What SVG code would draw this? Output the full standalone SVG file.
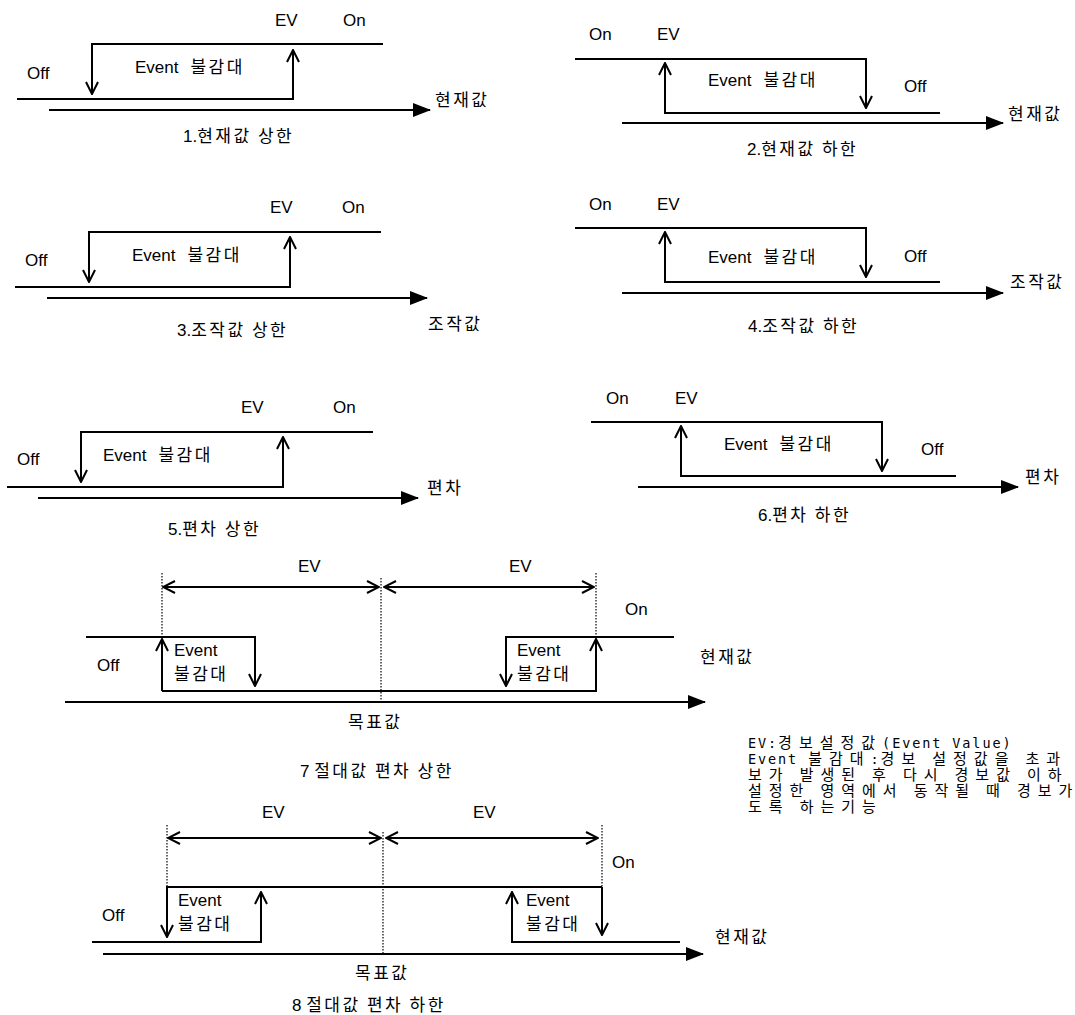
<svg xmlns="http://www.w3.org/2000/svg" width="1075" height="1015" viewBox="0 0 1075 1015">
<style>
text { fill:#000; }
.l { font-family:"Liberation Sans",Arial,sans-serif; font-size:17px; }
.k { font-family:"Noto Sans CJK KR",sans-serif; font-size:17px; letter-spacing:2.5px; }
.ml { font-family:"DejaVu Sans Mono","Liberation Mono",monospace; font-size:13.5px; letter-spacing:1.9px; }
.mk { font-family:"Noto Sans CJK KR",sans-serif; font-size:15px; letter-spacing:7px; }
.ar { fill:none; stroke:#000; stroke-width:2; marker-end:url(#v); }
.ax { fill:none; stroke:#000; stroke-width:2; marker-end:url(#tri); }
.dd { fill:none; stroke:#000; stroke-width:2; marker-start:url(#v); marker-end:url(#v); }
.dot { fill:none; stroke:#000; stroke-width:1.2; stroke-dasharray:1.5 1.5; }
</style>
<defs>
<marker id="v" viewBox="0 0 14 14" refX="13" refY="7" markerWidth="14" markerHeight="14" orient="auto-start-reverse" markerUnits="userSpaceOnUse">
<path d="M1,1 L13,7 L1,13" fill="none" stroke="#000" stroke-width="2"/>
</marker>
<marker id="tri" viewBox="0 0 18 14" refX="17" refY="7" markerWidth="18" markerHeight="14" orient="auto" markerUnits="userSpaceOnUse">
<path d="M0,0 L18,7 L0,14 Z" fill="#000"/>
</marker>
</defs>

<g id="chart1">
<path class="ar" d="M17,99 H293 V50"/>
<path class="ar" d="M383,44 H92 V94"/>
<path class="ax" d="M49,110 H430"/>
<text class="l" x="275" y="26">EV</text>
<text class="l" x="343" y="26">On</text>
<text class="l" x="27" y="79">Off</text>
<text class="l" x="135" y="73">Event<tspan class="k" dx="12">불감대</tspan></text>
<text class="k" x="435" y="106">현재값</text>
<text class="l" x="183" y="142">1.<tspan class="k">현재값 상한</tspan></text>
</g>

<g id="chart2">
<path class="ar" d="M575,59 H866 V108"/>
<path class="ar" d="M940,113 H665 V63"/>
<path class="ax" d="M622,123 H1003"/>
<text class="l" x="589" y="40">On</text>
<text class="l" x="657" y="40">EV</text>
<text class="l" x="708" y="86">Event<tspan class="k" dx="12">불감대</tspan></text>
<text class="l" x="904" y="92">Off</text>
<text class="k" x="1008" y="120">현재값</text>
<text class="l" x="747" y="155">2.<tspan class="k">현재값 하한</tspan></text>
</g>

<g id="chart3">
<path class="ar" d="M381,232 H89 V282"/>
<path class="ar" d="M15,287 H290 V237"/>
<path class="ax" d="M47,298 H427"/>
<text class="l" x="270" y="213">EV</text>
<text class="l" x="342" y="213">On</text>
<text class="l" x="25" y="266">Off</text>
<text class="l" x="132" y="261">Event<tspan class="k" dx="12">불감대</tspan></text>
<text class="k" x="428" y="330">조작값</text>
<text class="l" x="177" y="336">3.<tspan class="k">조작값 상한</tspan></text>
</g>

<g id="chart4">
<path class="ar" d="M575,228 H866 V277"/>
<path class="ar" d="M940,282 H665 V232"/>
<path class="ax" d="M622,293 H1003"/>
<text class="l" x="589" y="210">On</text>
<text class="l" x="657" y="210">EV</text>
<text class="l" x="708" y="263">Event<tspan class="k" dx="12">불감대</tspan></text>
<text class="l" x="904" y="262">Off</text>
<text class="k" x="1010" y="288">조작값</text>
<text class="l" x="748" y="332">4.<tspan class="k">조작값 하한</tspan></text>
</g>

<g id="chart5">
<path class="ar" d="M373,432 H81 V482"/>
<path class="ar" d="M7,487 H283 V437"/>
<path class="ax" d="M38,498 H418"/>
<text class="l" x="241" y="413">EV</text>
<text class="l" x="333" y="413">On</text>
<text class="l" x="17" y="465">Off</text>
<text class="l" x="103" y="461">Event<tspan class="k" dx="12">불감대</tspan></text>
<text class="k" x="427" y="494">편차</text>
<text class="l" x="168" y="535">5.<tspan class="k">편차 상한</tspan></text>
</g>

<g id="chart6">
<path class="ar" d="M591,422 H882 V471"/>
<path class="ar" d="M956,476 H681 V426"/>
<path class="ax" d="M638,487 H1018"/>
<text class="l" x="606" y="404">On</text>
<text class="l" x="675" y="404">EV</text>
<text class="l" x="724" y="450">Event<tspan class="k" dx="12">불감대</tspan></text>
<text class="l" x="921" y="455">Off</text>
<text class="k" x="1025" y="483">편차</text>
<text class="l" x="758" y="521">6.<tspan class="k">편차 하한</tspan></text>
</g>

<g id="chart7">
<path class="dot" d="M162,573 V637 M381,578 V700 M596,573 V635"/>
<path class="dd" d="M163,587 H379"/>
<path class="dd" d="M384,587 H594"/>
<path class="ar" d="M86,637 H255 V686"/>
<path class="ar" d="M162,691 H596 V639"/>
<path class="ar" d="M162,691 V639"/>
<path class="ar" d="M674,637 H506 V686"/>
<path class="ax" d="M65,702 H705"/>
<text class="l" x="298" y="572">EV</text>
<text class="l" x="509" y="572">EV</text>
<text class="l" x="97" y="671">Off</text>
<text class="l" x="174" y="656">Event</text>
<text class="k" x="174" y="680">불감대</text>
<text class="l" x="517" y="656">Event</text>
<text class="k" x="517" y="680">불감대</text>
<text class="l" x="625" y="615">On</text>
<text class="k" x="700" y="663">현재값</text>
<text class="k" x="348" y="728">목표값</text>
<text class="l" x="300" y="777">7 <tspan class="k">절대값 편차 상한</tspan></text>
</g>

<g id="chart8">
<path class="dot" d="M167,825 V887 M383,832 V953 M602,825 V887"/>
<path class="dd" d="M168,838 H381"/>
<path class="dd" d="M386,838 H598"/>
<path class="ar" d="M602,887 H167 V937"/>
<path class="ar" d="M602,887 V935"/>
<path class="ar" d="M92,942 H261 V892"/>
<path class="ar" d="M680,942 H512 V892"/>
<path class="ax" d="M103,954 H703"/>
<text class="l" x="262" y="818">EV</text>
<text class="l" x="473" y="818">EV</text>
<text class="l" x="102" y="921">Off</text>
<text class="l" x="178" y="906">Event</text>
<text class="k" x="178" y="930">불감대</text>
<text class="l" x="526" y="906">Event</text>
<text class="k" x="526" y="930">불감대</text>
<text class="l" x="612" y="868">On</text>
<text class="k" x="715" y="943">현재값</text>
<text class="k" x="355" y="979">목표값</text>
<text class="l" x="292" y="1011">8 <tspan class="k">절대값 편차 하한</tspan></text>
</g>

<g id="legend">
<text x="748" y="748" xml:space="preserve"><tspan class="ml">EV:</tspan><tspan class="mk">경보설정값</tspan><tspan class="ml">(Event Value)</tspan></text>
<text x="748" y="764" xml:space="preserve"><tspan class="ml">Event </tspan><tspan class="mk">불감대</tspan><tspan class="ml">:</tspan><tspan class="mk">경보</tspan><tspan class="ml"> </tspan><tspan class="mk">설정값을</tspan><tspan class="ml"> </tspan><tspan class="mk">초과</tspan></text>
<text x="748" y="780" xml:space="preserve"><tspan class="mk">보가</tspan><tspan class="ml"> </tspan><tspan class="mk">발생된</tspan><tspan class="ml"> </tspan><tspan class="mk">후</tspan><tspan class="ml"> </tspan><tspan class="mk">다시</tspan><tspan class="ml"> </tspan><tspan class="mk">경보값</tspan><tspan class="ml"> </tspan><tspan class="mk">이하</tspan></text>
<text x="748" y="796" xml:space="preserve"><tspan class="mk">설정한</tspan><tspan class="ml"> </tspan><tspan class="mk">영역에서</tspan><tspan class="ml"> </tspan><tspan class="mk">동작될</tspan><tspan class="ml"> </tspan><tspan class="mk">때</tspan><tspan class="ml"> </tspan><tspan class="mk">경보가</tspan></text>
<text x="748" y="812" xml:space="preserve"><tspan class="mk">도록</tspan><tspan class="ml"> </tspan><tspan class="mk">하는기능</tspan></text>
</g>
</svg>
